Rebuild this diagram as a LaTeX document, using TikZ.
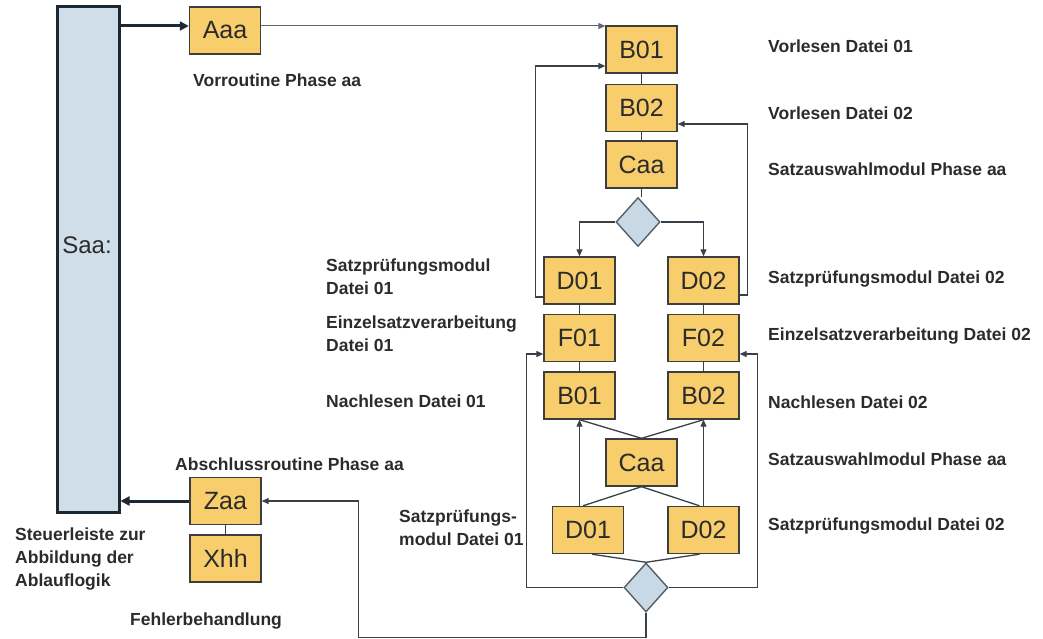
\documentclass[tikz,border=0pt]{standalone}
\usepackage{fontspec}
\setmainfont{Liberation Sans}
\usetikzlibrary{arrows.meta,shapes.geometric,calc}

\definecolor{boxfill}{HTML}{F8CE6C}
\definecolor{boxline}{HTML}{3E3E3E}
\definecolor{barfill}{HTML}{CFDEE9}
\definecolor{barline}{HTML}{1C2833}
\definecolor{decfill}{HTML}{C8D8E4}
\definecolor{decline}{HTML}{555F66}
\definecolor{linecol}{HTML}{3A4048}
\definecolor{labeltext}{HTML}{2B2B2B}

\tikzset{
  mod/.style={rectangle, draw=boxline, fill=boxfill, line width=1.4pt,
    minimum width=71pt, minimum height=47pt, inner sep=0pt,
    font=\fontsize{25}{28}\selectfont, text=labeltext},
  dec/.style={diamond, draw=decline, fill=decfill, line width=1.4pt,
    minimum width=44pt, minimum height=49pt, inner sep=0pt},
  lbl/.style={font=\bfseries\fontsize{17.5}{23}\selectfont, text=labeltext,
    inner sep=0pt, anchor=base west, align=left},
  conn/.style={draw=linecol, line width=1.3pt},
  arr/.style={conn, -{Triangle[length=7pt,width=6pt]}},
  thinarr/.style={draw=linecol!80, line width=1pt, -{Triangle[length=7pt,width=6pt]}},
  bararr/.style={draw=barline, line width=3pt, -{Triangle[length=9pt,width=9pt]}}
}

\begin{document}
\begin{tikzpicture}[x=1pt,y=-1pt]
\useasboundingbox (0,0) rectangle (1043,639);

% control bar
\node[rectangle, draw=barline, fill=barfill, line width=3pt,
      minimum width=62pt, minimum height=505pt, inner sep=0pt] (bar) at (88,259.5) {};
\node[font=\fontsize{24}{28}\selectfont, text=labeltext, inner sep=0pt] (saa) at (87,245) {Saa:};

% modules
\node[mod] (Aaa) at (225,30.5) {Aaa};
\node[mod] (B01) at (641.5,49.5) {B01};
\node[mod] (B02) at (641.5,108) {B02};
\node[mod] (Caa) at (641.5,164.5) {Caa};
\node[dec] (dia1) at (638,222) {};
\node[mod] (D01) at (579.5,280.5) {D01};
\node[mod] (D02) at (703.5,280.5) {D02};
\node[mod] (F01) at (579.5,338) {F01};
\node[mod] (F02) at (703.5,338) {F02};
\node[mod] (B01b) at (579.5,395.5) {B01};
\node[mod] (B02b) at (703.5,395.5) {B02};
\node[mod] (Caab) at (641.5,462.5) {Caa};
\node[mod] (D01b) at (588,530) {D01};
\node[mod] (D02b) at (703.5,530) {D02};
\node[dec] (dia2) at (646,587.5) {};
\node[mod] (Zaa) at (225.5,501) {Zaa};
\node[mod] (Xhh) at (225.5,558.5) {Xhh};

% labels (multi-line ones sit on the baseline of their last line)
\node[lbl] (l1) at (193,87) {Vorroutine Phase aa};
\node[lbl] (r1) at (768,53) {Vorlesen Datei 01};
\node[lbl] (r2) at (768,120) {Vorlesen Datei 02};
\node[lbl] (r3) at (768,175.5) {Satzauswahlmodul Phase aa};
\node[lbl] (r4) at (768,283) {Satzprüfungsmodul Datei 02};
\node[lbl] (r5) at (768,340.5) {Einzelsatzverarbeitung Datei 02};
\node[lbl] (r6) at (768,408) {Nachlesen Datei 02};
\node[lbl] (r7) at (768,465) {Satzauswahlmodul Phase aa};
\node[lbl] (r8) at (768,530) {Satzprüfungsmodul Datei 02};
\node[lbl] (l2) at (326,294) {Satzprüfungsmodul\\Datei 01};
\node[lbl] (l3) at (326,351) {Einzelsatzverarbeitung\\Datei 01};
\node[lbl] (l4) at (326,407) {Nachlesen Datei 01};
\node[lbl] (l5) at (399,545) {Satzprüfungs-\\modul Datei 01};
\node[lbl] (l6) at (175,470) {Abschlussroutine Phase aa};
\node[lbl] (l7) at (15,586) {Steuerleiste zur\\Abbildung der\\Ablauflogik};
\node[lbl] (l8) at (130,625) {Fehlerbehandlung};

% flow
\coordinate (topy) at (0,26);
\draw[bararr] (bar.east |- topy) -- (Aaa.west |- topy);
\draw[thinarr] (Aaa.east |- topy) -- (B01.west |- topy);

\draw[conn] (B01) -- (B02);
\draw[conn] (B02) -- (Caa);
\draw[conn] (Caa.south) -- (Caa.south |- dia1.north);
\draw[arr] (dia1.west) -| (D01.north);
\draw[arr] (dia1.east) -| (D02.north);

\draw[arr] ([yshift=-16.5pt]D01.west) -- ++(-8,0) |- ([yshift=-16.5pt]B01.west);
\draw[arr] ([yshift=-14.5pt]D02.east) -- ++(8,0) |- ([yshift=-16pt]B02.east);

\draw[conn] (D01) -- (F01);
\draw[conn] (F01) -- (B01b);
\draw[conn] (D02) -- (F02);
\draw[conn] (F02) -- (B02b);

\draw[conn] (B01b.south) -- (Caab.north);
\draw[conn] (B02b.south) -- (Caab.north);
\draw[arr] (B01b.south |- D01b.north) -- (B01b.south);
\draw[arr] (B02b.south |- D02b.north) -- (B02b.south);
\draw[conn] (Caab.south) -- ([xshift=-5pt]D01b.north);
\draw[conn] (Caab.south) -- ([xshift=-4pt]D02b.north);
\draw[conn] ([xshift=4pt]D01b.south) -- (dia2.north);
\draw[conn] ([xshift=-4pt]D02b.south) -- (dia2.north);

\draw[arr] (dia2.west) -- ++(-97,0) |- ([yshift=-16pt]F01.west);
\draw[arr] (dia2.east) -- ++(89,0) |- ([yshift=-16pt]F02.east);
\draw[arr] (dia2.south) -- ++(0,25) -| ($(Zaa.east)+(97,0)$) -- (Zaa.east);

\draw[bararr] (Zaa.west) -- (bar.east |- Zaa.west);
\draw[conn] (Zaa) -- (Xhh);
\end{tikzpicture}
\end{document}
